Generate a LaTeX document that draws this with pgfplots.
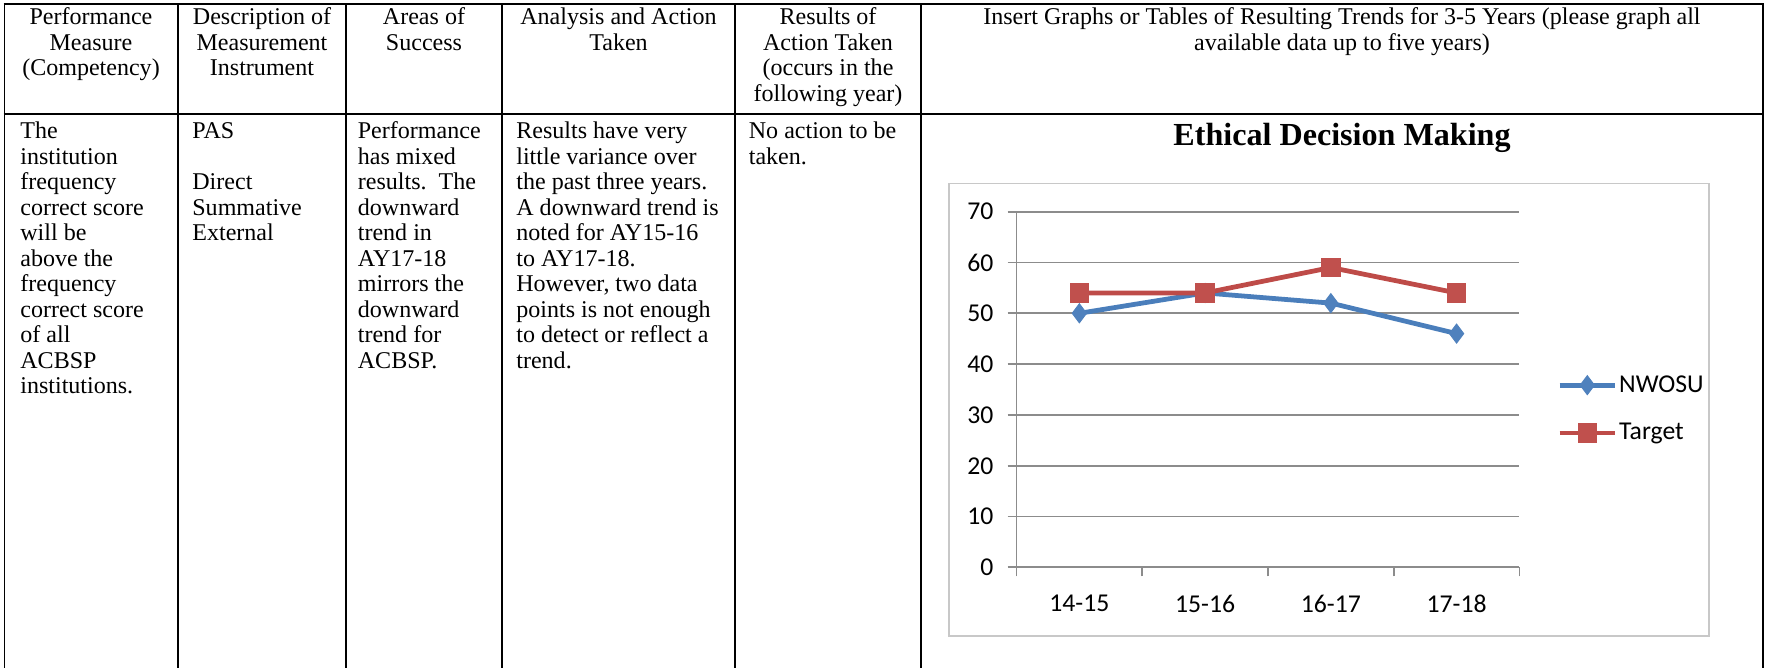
\documentclass[border=0pt]{standalone}
\usepackage{pgfplots}
\pgfplotsset{compat=1.18}
\usepackage{fontspec}
\setmainfont{Liberation Serif}
\newfontfamily\carlito{Carlito}
\definecolor{nwblue}{HTML}{4A7EBB}
\definecolor{nwbluef}{HTML}{4F81BD}
\definecolor{tgred}{HTML}{BE4B48}
\definecolor{tgredf}{HTML}{C0504D}
\definecolor{gridgray}{HTML}{8C8C8C}
\definecolor{boxgray}{HTML}{C8C8C8}
\newcommand\cellfont{\fontsize{13.1}{15}\selectfont}
\begin{document}
\begin{tikzpicture}
\begin{scope}[x=0.545pt,y=-0.545pt]
\useasboundingbox (0,0) rectangle (1765,668);
% table rules
\draw[line width=1.3pt] (3.5,4) -- (1763.5,4);
\draw[line width=1.3pt] (3.5,114) -- (1763.5,114);
\foreach \cx in {4.5,178,345.6,502,735,921,1763}
  \draw[line width=1pt] (\cx,3) -- (\cx,668);
% header text
\foreach \t [count=\i from 0] in {{Performance},{Measure},{(Competency)}}
  \node[anchor=base,inner sep=0,font=\cellfont] at (91,24.8+25.5*\i) {\t};
\foreach \t [count=\i from 0] in {{Description of},{Measurement},{Instrument}}
  \node[anchor=base,inner sep=0,font=\cellfont] at (262,24.8+25.5*\i) {\t};
\foreach \t [count=\i from 0] in {{Areas of},{Success}}
  \node[anchor=base,inner sep=0,font=\cellfont] at (424,24.8+25.5*\i) {\t};
\foreach \t [count=\i from 0] in {{Analysis and Action},{Taken}}
  \node[anchor=base,inner sep=0,font=\cellfont] at (618.5,24.8+25.5*\i) {\t};
\foreach \t [count=\i from 0] in {{Results of},{Action Taken},{(occurs in the},{following year)}}
  \node[anchor=base,inner sep=0,font=\cellfont] at (828,24.8+25.5*\i) {\t};
\foreach \t [count=\i from 0] in {{Insert Graphs or Tables of Resulting Trends for 3-5 Years (please graph all},{available data up to five years)}}
  \node[anchor=base,inner sep=0,font=\cellfont] at (1342,24.8+25.5*\i) {\t};
% body text
\foreach \t [count=\i from 0] in {The,institution,frequency,correct score,will be,above the,frequency,correct score,of all,ACBSP,institutions.}
  \node[anchor=base west,inner sep=0,font=\cellfont] at (20,138.5+25.5*\i) {\t};
\foreach \t [count=\i from 0] in {PAS,{},Direct,Summative,External}
  \node[anchor=base west,inner sep=0,font=\cellfont] at (192,138.5+25.5*\i) {\t};
\foreach \t [count=\i from 0] in {Performance,has mixed,results.\ \ The,downward,trend in,AY17-18,mirrors the,downward,trend for,ACBSP.}
  \node[anchor=base west,inner sep=0,font=\cellfont] at (357.5,138.5+25.5*\i) {\t};
\foreach \t [count=\i from 0] in {Results have very,little variance over,the past three years.,A downward trend is,noted for AY15-16,to AY17-18.,{However, two data},points is not enough,to detect or reflect a,trend.}
  \node[anchor=base west,inner sep=0,font=\cellfont] at (516,138.5+25.5*\i) {\t};
\foreach \t [count=\i from 0] in {No action to be,taken.}
  \node[anchor=base west,inner sep=0,font=\cellfont] at (748.5,138.5+25.5*\i) {\t};
% chart title and box
\node[anchor=base,inner sep=0,font=\fontsize{17.5}{20}\selectfont\bfseries] at (1342,145) {Ethical Decision Making};
\draw[boxgray,line width=1pt] (949,183.5) rectangle (1709,636);
\end{scope}
\begin{axis}[
  at={(553.99pt,-309.23pt)}, anchor=south west,
  scale only axis, width=274.1pt, height=193.9pt,
  xmin=-0.5, xmax=3.5, ymin=0, ymax=70,
  ytick={0,10,...,70},
  xtick={0,1,2,3}, xticklabels={14-15,15-16,16-17,17-18},
  minor xtick={-0.5,0.5,1.5,2.5,3.5},
  major x tick style={draw=none},
  major tick length=4.9pt, minor tick length=4.9pt,
  tick align=outside,
  axis x line*=bottom, axis y line*=left,
  axis line style={gridgray,line width=1pt,-},
  tick style={gridgray,line width=1pt},
  ymajorgrids, grid style={gridgray,line width=1pt},
  /pgf/number format/assume math mode=true,
  ticklabel style={font=\carlito\fontsize{14}{16}\selectfont},
  xticklabel style={yshift=-6.5pt},
  yticklabel style={xshift=-4.2pt},
  legend style={draw=none,fill=none,at={(1.0635,0.445)},anchor=west,
    font=\carlito\fontsize{14}{16}\selectfont,row sep=11.6pt,
    nodes={inner xsep=1pt}},
  legend cell align=left,
  legend image code/.code={\draw[mark repeat=2,mark phase=2,#1] plot coordinates {(0cm,0cm) (0.53cm,0cm) (1.06cm,0cm)};},
]
\addplot[nwblue,line width=2.6pt,mark=diamond*,mark size=5.2pt,mark options={fill=nwbluef,draw=nwbluef,line width=0.5pt}]
  coordinates {(0,50) (1,54) (2,52) (3,46)};
\addlegendentry{NWOSU}
\addplot[tgred,line width=2.6pt,mark=square*,mark size=5pt,mark options={fill=tgredf,draw=tgredf,line width=0.5pt}]
  coordinates {(0,54) (1,54) (2,59) (3,54)};
\addlegendentry{Target}
\end{axis}
\end{tikzpicture}
\end{document}
